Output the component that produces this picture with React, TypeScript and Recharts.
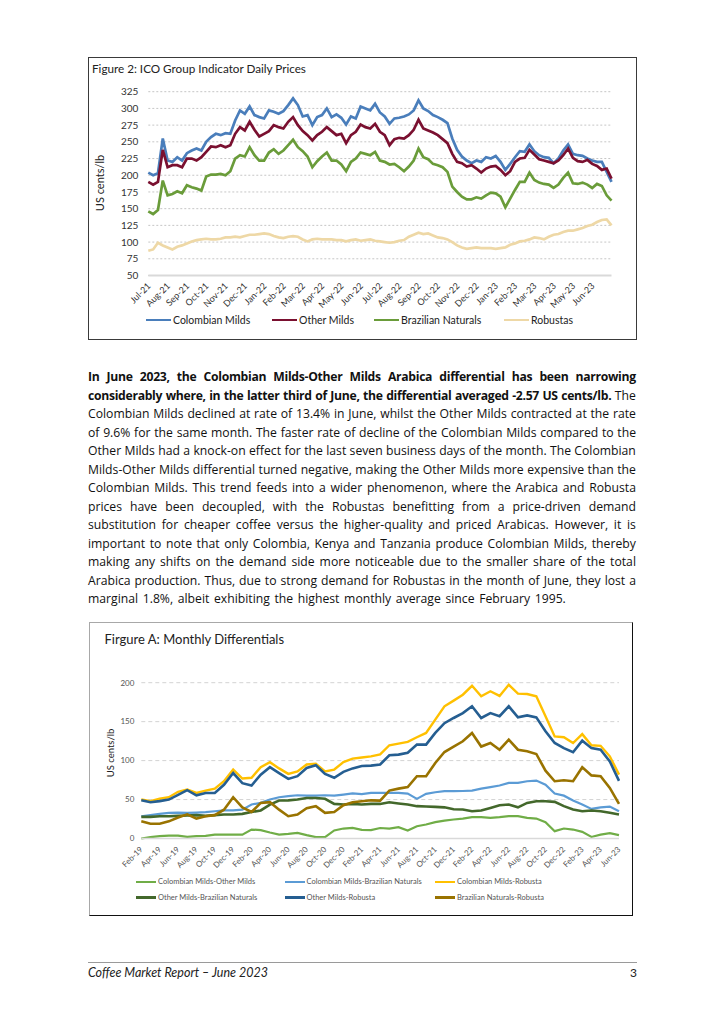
import React from "react";
import { LineChart, Line, XAxis, YAxis, CartesianGrid } from "recharts";

// Figure 2: ICO group indicator prices (Jul-21 .. Jun-23)
const priceMonths = [
  "Jul-21", "Aug-21", "Sep-21", "Oct-21", "Nov-21", "Dec-21",
  "Jan-22", "Feb-22", "Mar-22", "Apr-22", "May-22", "Jun-22",
  "Jul-22", "Aug-22", "Sep-22", "Oct-22", "Nov-22", "Dec-22",
  "Jan-23", "Feb-23", "Mar-23", "Apr-23", "May-23", "Jun-23",
];
const colombianMilds = [
  204, 200, 203, 255, 222, 220, 227, 222, 233, 237, 240, 237, 250, 257, 262, 260, 263, 262, 282, 297, 292, 303, 290, 287, 285,
  297, 295, 292, 296, 305, 315, 305, 288, 290, 275, 287, 290, 300, 287, 291, 286, 276, 288, 285, 303, 300, 297, 307, 294, 288,
  277, 285, 286, 288, 291, 297, 312, 300, 296, 290, 287, 283, 278, 255, 238, 228, 222, 218, 222, 220, 227, 225, 229, 220, 208,
  217, 227, 236, 235, 246, 236, 230, 227, 226, 218, 225, 237, 246, 232, 230, 229, 225, 222, 220, 220, 205, 190,
];
const otherMilds = [
  190, 186, 190, 238, 212, 215, 215, 212, 225, 225, 222, 227, 235, 243, 242, 245, 242, 245, 262, 272, 267, 280, 268, 258, 262,
  266, 275, 272, 270, 280, 287, 275, 266, 260, 252, 260, 265, 272, 266, 260, 262, 248, 260, 265, 276, 272, 270, 277, 265, 260,
  245, 254, 256, 255, 260, 268, 283, 270, 267, 264, 260, 254, 248, 232, 220, 218, 213, 215, 210, 204, 210, 213, 214, 208, 200,
  206, 220, 225, 226, 238, 231, 224, 222, 220, 218, 222, 230, 240, 226, 221, 220, 223, 217, 214, 208, 210, 195,
];
const brazilianNaturals = [
  146, 142, 148, 192, 170, 172, 176, 173, 185, 182, 180, 177, 198, 201, 201, 202, 200, 206, 225, 230, 228, 242, 230, 222, 222,
  234, 239, 232, 237, 245, 253, 242, 236, 228, 212, 221, 228, 234, 222, 222, 216, 206, 220, 225, 234, 232, 230, 235, 222, 220,
  216, 217, 212, 206, 213, 222, 240, 227, 224, 217, 215, 212, 205, 183, 175, 168, 164, 164, 167, 165, 170, 174, 173, 168, 152,
  165, 178, 190, 190, 204, 193, 189, 187, 186, 181, 186, 196, 204, 188, 187, 189, 186, 181, 187, 184, 170, 162,
];
const robustas = [
  87, 89, 99, 95, 92, 89, 93, 95, 98, 101, 103, 104, 105, 104, 104, 105, 107, 107, 108, 107, 109, 111, 111, 112, 113,
  112, 109, 107, 106, 108, 109, 108, 104, 101, 104, 105, 104, 104, 104, 103, 103, 101, 103, 104, 102, 103, 104, 102, 101, 100,
  99, 100, 102, 103, 108, 111, 114, 112, 113, 110, 107, 106, 104, 100, 95, 92, 90, 91, 92, 91, 91, 91, 90, 91, 92,
  96, 98, 101, 102, 104, 107, 106, 104, 108, 111, 112, 115, 117, 117, 119, 121, 124, 126, 130, 133, 134, 125,
];
const priceTicks = [50, 75, 100, 125, 150, 175, 200, 225, 250, 275, 300, 325];

// Figure A: monthly differentials (Feb-19 .. Jun-23)
const diffMonths = [
  "Feb-19", "Mar-19", "Apr-19", "May-19", "Jun-19", "Jul-19", "Aug-19", "Sep-19", "Oct-19", "Nov-19", "Dec-19",
  "Jan-20", "Feb-20", "Mar-20", "Apr-20", "May-20", "Jun-20", "Jul-20", "Aug-20", "Sep-20", "Oct-20", "Nov-20", "Dec-20",
  "Jan-21", "Feb-21", "Mar-21", "Apr-21", "May-21", "Jun-21", "Jul-21", "Aug-21", "Sep-21", "Oct-21", "Nov-21", "Dec-21",
  "Jan-22", "Feb-22", "Mar-22", "Apr-22", "May-22", "Jun-22", "Jul-22", "Aug-22", "Sep-22", "Oct-22", "Nov-22", "Dec-22",
  "Jan-23", "Feb-23", "Mar-23", "Apr-23", "May-23", "Jun-23",
];
const colOther = [
  0, 1.7, 3, 3.8, 3.8, 2, 3, 3.4, 5, 5, 5, 5, 11.5, 10.7, 7.7, 5, 6, 7.3, 4.3, 1.7, 1.7, 10.3, 12.8, 13.7, 11, 10.7, 13.5,
  12.8, 14.5, 10.3, 15.8, 18, 21, 23, 24.4, 25.6, 27.4, 27.4, 26.5, 27.4, 28.6, 28.6, 26.5, 25.6, 21, 9.4, 12.8, 11.5, 8.5, 2, 5, 6.8, 4.3,
];
const colBraz = [
  28.6, 30, 31.6, 33, 33.3, 33, 33.3, 33.8, 35, 36, 36, 37, 43.6, 45.7, 50, 53, 54.3, 55.5, 55, 55, 55.5, 55, 56.4, 58, 57, 58.5, 58.5,
  58.5, 58.5, 57.7, 50.9, 57.3, 59.4, 60.7, 60.7, 61, 61.5, 64, 66, 68, 71.4, 71.4, 73.5, 74.4, 69, 57.7, 55, 48.7, 43.6, 38, 40, 41, 35,
];
const colRob = [
  50, 48, 51, 53, 60, 63, 58.5, 61.5, 64, 73.5, 88.5, 77, 78, 91.5, 98, 90, 83, 86, 95, 96, 86, 88.5, 98, 102.5, 104, 105.5, 108,
  119.7, 121.8, 124, 130, 135.5, 152.6, 169.7, 177, 184.6, 196, 182.5, 189, 183, 197.4, 186, 185.5, 182.5, 157, 131, 130, 122.6, 134, 119.7, 119, 105.5, 82,
];
const otherBraz = [
  27.8, 27.8, 28.6, 28.6, 29, 29.5, 30, 29, 30, 30.8, 30.8, 31.6, 34, 36, 43.6, 48.7, 49, 50, 52, 52, 51, 44.4, 43.6, 44.4, 43.6, 44.4, 44.4,
  46.6, 45, 43.6, 41.5, 41, 40.6, 40, 37.6, 37.2, 35, 36, 39.3, 42.7, 43.6, 40, 45.7, 47.9, 47.9, 47, 41.5, 37.2, 35, 36, 35, 33, 30.8,
];
const otherRob = [
  49, 46.5, 48, 50, 56, 62, 55.5, 58.5, 58.5, 69, 84, 71, 68, 82, 91.5, 84, 76.5, 80, 90.5, 94, 83, 78, 85.5, 90, 93, 93.5, 95,
  106.8, 107.7, 110, 120.5, 120.5, 135.5, 148, 154.7, 161, 169.7, 154.7, 161, 157, 169.7, 155.5, 158, 155.5, 137.6, 122.6, 116, 110.7, 125.6, 116, 114, 99, 74,
];
const brazRob = [
  22, 19, 19, 22, 27, 31, 25.6, 28.6, 30, 37, 53, 40, 34, 45.7, 46.6, 37, 28.6, 30.8, 39, 41.5, 33, 34, 42.7, 46.6, 47.9, 49, 48.7,
  61.5, 64, 66, 80, 80, 97, 111, 118, 124.8, 135.5, 118, 122.6, 114, 127, 114, 112, 108.5, 87, 73.5, 74.8, 73.5, 91.5, 81, 80, 65, 44.4,
];
const diffTicks = [0, 50, 100, 150, 200];

const bodyLines = [
  { text: "In June 2023, the Colombian Milds-Other Milds Arabica differential has been narrowing", bold: 99 },
  { text: "considerably where, in the latter third of June, the differential averaged -2.57 US cents/lb. The", bold: 14 },
  { text: "Colombian Milds declined at rate of 13.4% in June, whilst the Other Milds contracted at the rate", bold: 0 },
  { text: "of 9.6% for the same month. The faster rate of decline of the Colombian Milds compared to the", bold: 0 },
  { text: "Other Milds had a knock-on effect for the last seven business days of the month. The Colombian", bold: 0 },
  { text: "Milds-Other Milds differential turned negative, making the Other Milds more expensive than the", bold: 0 },
  { text: "Colombian Milds. This trend feeds into a wider phenomenon, where the Arabica and Robusta", bold: 0 },
  { text: "prices have been decoupled, with the Robustas benefitting from a price-driven demand", bold: 0 },
  { text: "substitution for cheaper coffee versus the higher-quality and priced Arabicas. However, it is", bold: 0 },
  { text: "important to note that only Colombia, Kenya and Tanzania produce Colombian Milds, thereby", bold: 0 },
  { text: "making any shifts on the demand side more noticeable due to the smaller share of the total", bold: 0 },
  { text: "Arabica production. Thus, due to strong demand for Robustas in the month of June, they lost a", bold: 0 },
  { text: "marginal 1.8%, albeit exhibiting the highest monthly average since February 1995.", bold: 0 },
];

const FONT = "Lato, 'Open Sans', sans-serif";
const BODY_FONT = "'Open Sans', 'Noto Sans', sans-serif";
const WEEKS_PER_MONTH = 4;

const priceData = colombianMilds.map((v, i) => ({
  x: i,
  colombian: v,
  other: otherMilds[i],
  brazilian: brazilianNaturals[i],
  robustas: robustas[i],
}));

const diffData = diffMonths.map((m, i) => ({
  x: i,
  colOther: colOther[i],
  colBraz: colBraz[i],
  colRob: colRob[i],
  otherBraz: otherBraz[i],
  otherRob: otherRob[i],
  brazRob: brazRob[i],
}));

const priceSeries = [
  { key: "colombian", name: "Colombian Milds", color: "#4A7EBB" },
  { key: "other", name: "Other Milds", color: "#7A1030" },
  { key: "brazilian", name: "Brazilian Naturals", color: "#6A9C3A" },
  { key: "robustas", name: "Robustas", color: "#EED8A6" },
];

const diffSeries = [
  { key: "colOther", name: "Colombian Milds-Other Milds", color: "#70AD47", width: 2.2 },
  { key: "colBraz", name: "Colombian Milds-Brazilian Naturals", color: "#5B9BD5", width: 2.2 },
  { key: "colRob", name: "Colombian Milds-Robusta", color: "#FFC000", width: 2.4 },
  { key: "otherBraz", name: "Other Milds-Brazilian Naturals", color: "#43682B", width: 2.6 },
  { key: "otherRob", name: "Other Milds-Robusta", color: "#255E91", width: 2.6 },
  { key: "brazRob", name: "Brazilian Naturals-Robusta", color: "#997300", width: 2.6 },
];

// rotated month label, end of the text sits just under the tick
function SlantTick(props: any) {
  const { x, y, payload, label, size, fill, dx, dy } = props;
  const tx = x + dx;
  const ty = y + dy;
  return (
    <text x={tx} y={ty} transform={`rotate(-45 ${tx} ${ty})`} textAnchor="end" fontSize={size} fill={fill} fontFamily={FONT}>
      {label(payload.value)}
    </text>
  );
}

function VLabel({ text, x, y, size }: { text: string; x: number; y: number; size: number }) {
  return (
    <div
      style={{
        position: "absolute", left: x, top: y, transform: "translate(-50%, -50%) rotate(-90deg)",
        whiteSpace: "nowrap", fontSize: size, fontFamily: FONT, color: "#222", lineHeight: 1,
      }}
    >
      {text}
    </div>
  );
}

function LegendItem({ x, y, color, name, size, len, width, textColor }: any) {
  return (
    <div style={{ position: "absolute", left: x, top: y - 8, height: 16, display: "flex", alignItems: "center", whiteSpace: "nowrap" }}>
      <span style={{ display: "inline-block", width: len, height: width, background: color, marginRight: 2 }} />
      <span style={{ fontSize: size, fontFamily: FONT, color: textColor }}>{name}</span>
    </div>
  );
}

function BodyLine({ text, bold, last }: { text: string; bold: number; last: boolean }) {
  const words = text.split(" ");
  if (last) {
    return <div style={{ height: 18.5, whiteSpace: "nowrap", wordSpacing: 1.5 }}>{text}</div>;
  }
  return (
    <div style={{ height: 18.5, display: "flex", justifyContent: "space-between", whiteSpace: "nowrap" }}>
      {words.map((w, i) => (
        <span key={i} style={i < bold ? { fontWeight: 700, letterSpacing: -0.3 } : undefined}>{w}</span>
      ))}
    </div>
  );
}

export default function App() {
  const legend1 = [146, 272, 374, 504];
  const legend2 = [
    [136, 881.5], [284.5, 881.5], [435, 881.5],
    [136, 897], [284.5, 897], [435, 897],
  ];

  return (
    <div style={{ position: "absolute", left: 0, top: 0, width: 724, height: 1024, background: "#fff", fontFamily: FONT, overflow: "hidden" }}>
      {/* Figure 2 */}
      <div style={{ position: "absolute", left: 88, top: 57, width: 549, height: 283, border: "1.3px solid #3a3a3a", boxSizing: "border-box" }} />
      <div style={{ position: "absolute", left: 92, top: 61, fontSize: 11.7, color: "#222", whiteSpace: "nowrap" }}>
        Figure 2: ICO Group Indicator Daily Prices
      </div>
      <VLabel text="US cents/lb" x={98.5} y={183} size={11} />
      <div style={{ position: "absolute", left: 88, top: 57 }}>
        <LineChart width={549} height={283} data={priceData} margin={{ top: 34.7, right: 25.5, bottom: 24.5, left: 20.3 }}>
          <CartesianGrid vertical={false} stroke="#c6c6c6" strokeDasharray="2 2" />
          <XAxis
            dataKey="x"
            type="number"
            domain={[0, (priceMonths.length) * WEEKS_PER_MONTH]}
            ticks={priceMonths.map((_, m) => m * WEEKS_PER_MONTH)}
            interval={0}
            height={40}
            tickSize={0}
            tickMargin={0}
            axisLine={{ stroke: "#d9d9d9", strokeWidth: 2 }}
            tickLine={false}
            tick={(p: any) => (
              <SlantTick {...p} label={(v: number) => priceMonths[v / WEEKS_PER_MONTH]} size={9} fill="#333" dx={3} dy={11} />
            )}
          />
          <YAxis
            type="number"
            domain={[50, 325]}
            ticks={priceTicks}
            interval={0}
            width={40}
            tickSize={0}
            tickMargin={10}
            axisLine={false}
            tickLine={false}
            tick={{ fontSize: 10, fill: "#333", fontFamily: FONT }}
          />
          {priceSeries.map((s) => (
            <Line key={s.key} type="linear" dataKey={s.key} stroke={s.color} strokeWidth={2.7} dot={false} isAnimationActive={false} />
          ))}
        </LineChart>
      </div>
      {priceSeries.map((s, i) => (
        <LegendItem key={s.key} x={legend1[i]} y={320} color={s.color} name={s.name} size={10.5} len={25} width={2.5} textColor="#222" />
      ))}

      {/* paragraph */}
      <div style={{ position: "absolute", left: 88, top: 368, width: 548, fontFamily: BODY_FONT, fontSize: 12.2, lineHeight: "18.5px", color: "#111" }}>
        {bodyLines.map((l, i) => (
          <BodyLine key={i} text={l.text} bold={l.bold} last={i === bodyLines.length - 1} />
        ))}
      </div>

      {/* Figure A */}
      <div
        style={{
          position: "absolute", left: 89, top: 622, width: 544, height: 294, boxSizing: "border-box",
          borderTop: "1px solid #a8a8a8", borderLeft: "1px solid #a8a8a8", borderRight: "1.5px solid #111", borderBottom: "1.5px solid #111",
        }}
      />
      <div style={{ position: "absolute", left: 104.5, top: 631, fontSize: 13, color: "#222", whiteSpace: "nowrap" }}>
        Firgure A: Monthly Differentials
      </div>
      <VLabel text="US cents/lb" x={111} y={753} size={9.5} />
      <div style={{ position: "absolute", left: 89, top: 622 }}>
        <LineChart width={544} height={294} data={diffData} margin={{ top: 60.7, right: 14, bottom: 37.5, left: 12.3 }}>
          <CartesianGrid vertical={false} stroke="#d3d3d3" strokeDasharray="4 3" />
          <XAxis
            dataKey="x"
            type="number"
            domain={[0, diffMonths.length - 1]}
            ticks={diffMonths.map((_, i) => i).filter((i) => i % 2 === 0)}
            interval={0}
            height={40}
            tickSize={0}
            tickMargin={0}
            axisLine={{ stroke: "#d9d9d9", strokeWidth: 1.6 }}
            tickLine={false}
            tick={(p: any) => <SlantTick {...p} label={(v: number) => diffMonths[v]} size={8} fill="#555" dx={2} dy={11.5} />}
          />
          <YAxis
            type="number"
            domain={[0, 200]}
            ticks={diffTicks}
            interval={0}
            width={40}
            tickSize={0}
            tickMargin={7}
            axisLine={false}
            tickLine={false}
            tick={{ fontSize: 8, fill: "#555", fontFamily: FONT }}
          />
          {diffSeries.map((s) => (
            <Line key={s.key} type="linear" dataKey={s.key} stroke={s.color} strokeWidth={s.width} dot={false} isAnimationActive={false} />
          ))}
        </LineChart>
      </div>
      {diffSeries.map((s, i) => (
        <LegendItem
          key={s.key} x={legend2[i][0]} y={legend2[i][1]} color={s.color} name={s.name}
          size={7.5} len={20} width={i < 3 ? 2 : 3} textColor="#555"
        />
      ))}

      {/* footer */}
      <div style={{ position: "absolute", left: 88, top: 962, width: 549, height: 1, background: "#9a9a9a" }} />
      <div style={{ position: "absolute", left: 88, top: 965, fontSize: 12.5, fontStyle: "italic", color: "#222", whiteSpace: "nowrap" }}>
        Coffee Market Report – June 2023
      </div>
      <div style={{ position: "absolute", left: 630, top: 965, fontSize: 12, color: "#222" }}>3</div>
    </div>
  );
}
